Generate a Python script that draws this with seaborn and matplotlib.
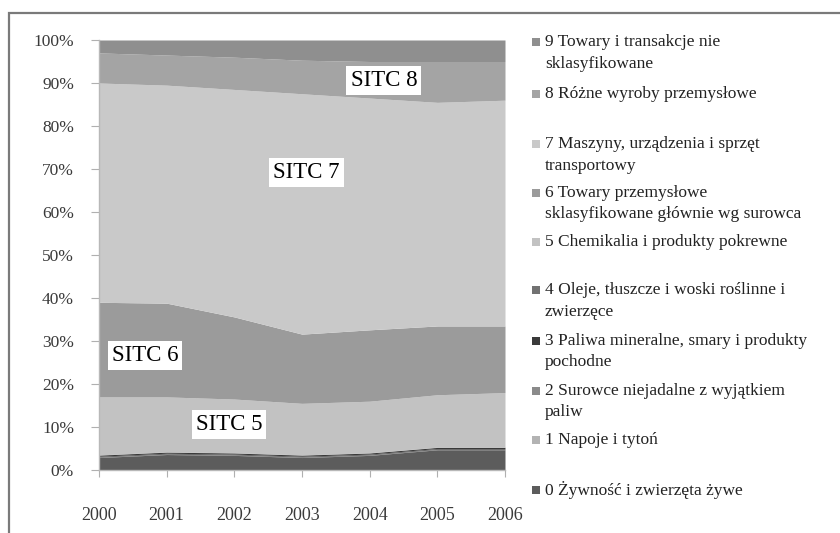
import numpy as np
import pandas as pd
import seaborn as sns
import matplotlib.pyplot as plt
from matplotlib.patches import Rectangle
from matplotlib.ticker import PercentFormatter

# Export structure by SITC section, share of total (%)
years = [2000, 2001, 2002, 2003, 2004, 2005, 2006]
sitc0 = [2.9, 3.6, 3.4, 2.9, 3.4, 4.7, 4.7]
sitc1 = [0.1, 0.1, 0.1, 0.1, 0.1, 0.1, 0.1]
sitc2 = [0.2, 0.2, 0.2, 0.2, 0.2, 0.2, 0.2]
sitc3 = [0.25, 0.25, 0.25, 0.25, 0.25, 0.25, 0.25]
sitc4 = [0.05, 0.05, 0.05, 0.05, 0.05, 0.05, 0.05]
sitc5 = [13.5, 12.8, 12.5, 12.0, 12.0, 12.2, 12.7]
sitc6 = [22.0, 21.8, 19.1, 16.1, 16.6, 16.0, 15.5]
sitc7 = [51.0, 50.7, 52.9, 55.9, 53.9, 52.0, 52.5]
sitc8 = [7.0, 7.0, 7.5, 7.8, 8.5, 9.5, 9.0]
sitc9 = [3.0, 3.5, 4.0, 4.7, 5.0, 5.0, 5.0]

legend_labels = [
    "0 Żywność i zwierzęta żywe",
    "1 Napoje i tytoń",
    "2 Surowce niejadalne z wyjątkiem\npaliw",
    "3 Paliwa mineralne, smary i produkty\npochodne",
    "4 Oleje, tłuszcze i woski roślinne i\nzwierzęce",
    "5 Chemikalia i produkty pokrewne",
    "6 Towary przemysłowe\nsklasyfikowane głównie wg surowca",
    "7 Maszyny, urządzenia i sprzęt\ntransportowy",
    "8 Różne wyroby przemysłowe",
    "9 Towary i transakcje nie\nsklasyfikowane",
]

area_labels = ["SITC 5", "SITC 6", "SITC 7", "SITC 8"]
area_label_x = [2001.92, 2000.68, 2003.07, 2004.21]
area_label_y = [10.5, 26.7, 69.1, 90.5]

df = pd.DataFrame({"year": years, "0": sitc0, "1": sitc1, "2": sitc2, "3": sitc3,
                   "4": sitc4, "5": sitc5, "6": sitc6, "7": sitc7, "8": sitc8, "9": sitc9})

sns.set_style("white")
plt.rcParams["font.family"] = ["Liberation Serif", "DejaVu Serif"]

greys = ["#5c5c5c", "#6a6a6a", "#585858", "#3a3a3a", "#4a4a4a",
         "#c2c2c2", "#9b9b9b", "#c9c9c9", "#a4a4a4", "#8f8f8f"]
legend_greys = ["#5c5c5c", "#b3b3b3", "#8a8a8a", "#3a3a3a", "#727272",
                "#c2c2c2", "#9b9b9b", "#c9c9c9", "#a4a4a4", "#8f8f8f"]

W, H = 840, 533
fig = plt.figure(figsize=(W / 100, H / 100), dpi=100)
ax = fig.add_axes([99 / W, 1 - 470 / H, (505 - 99) / W, (470 - 40) / H])

cols = [str(i) for i in range(10)]
ax.stackplot(df["year"], *[df[c] for c in cols], colors=greys, linewidth=0,
             edgecolor="face")

ax.set_xlim(2000, 2006)
ax.set_ylim(0, 100)
ax.set_yticks(np.arange(0, 101, 10))
ax.yaxis.set_major_formatter(PercentFormatter(decimals=0))
ax.set_xticks(years)
ax.tick_params(axis="y", length=6, color="#b0b0b0", labelsize=12.5, pad=12, labelcolor="#3a3a3a", left=True)
ax.tick_params(axis="x", length=5, color="#b0b0b0", labelsize=13, pad=22, labelcolor="#3a3a3a", bottom=True)
for s in ["top", "right"]:
    ax.spines[s].set_visible(False)
for s in ["left", "bottom"]:
    ax.spines[s].set_color("#b8b8b8")
    ax.spines[s].set_linewidth(1)

for lab, x, y in zip(area_labels, area_label_x, area_label_y):
    ax.text(x, y, lab, ha="center", va="center", fontsize=16.5, color="black",
            bbox=dict(boxstyle="square,pad=0.18", fc="white", ec="none"))

# outer frame
fig.add_artist(Rectangle((9 / W, -0.1), 1.2, 1 - 13 / H + 0.1, transform=fig.transFigure,
                         fill=False, ec="#7a7a7a", lw=1.6))

# legend, drawn top to bottom (9 .. 0)
first_line_y = [42, 94, 144, 193, 242, 290, 341, 391, 440, 490]
for k, idx in enumerate(range(9, -1, -1)):
    y0 = first_line_y[k]
    fig.add_artist(Rectangle((532 / W, 1 - (y0 + 4) / H), 8 / W, 8 / H,
                             transform=fig.transFigure, fc=legend_greys[idx], ec="none"))
    for j, line in enumerate(legend_labels[idx].split("\n")):
        fig.text(545 / W, 1 - (y0 + 21.5 * j) / H, line, fontsize=12.5, color="#222222",
                 ha="left", va="center")

fig.savefig("out.png", dpi=100, facecolor="white")
plt.close(fig)
